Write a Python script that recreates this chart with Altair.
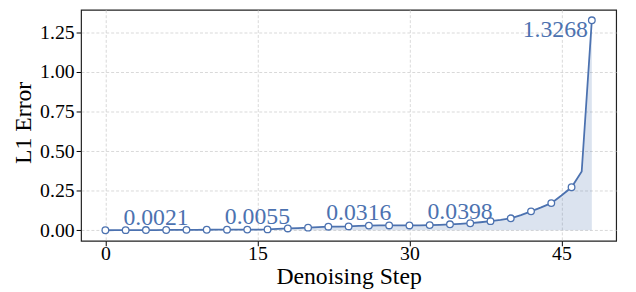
import altair as alt
import pandas as pd

# Denoising steps 0..48 and L1 error
steps = list(range(49))
errors = [
    0.0005, 0.0010, 0.0012, 0.0015, 0.0018, 0.0020, 0.0022, 0.0026, 0.0030, 0.0034,
    0.0036, 0.0038, 0.0040, 0.0042, 0.0045, 0.0048, 0.0060, 0.0090, 0.0120, 0.0140,
    0.0170, 0.0200, 0.0230, 0.0240, 0.0250, 0.0280, 0.0300, 0.0310, 0.0310, 0.0310,
    0.0310, 0.0320, 0.0330, 0.0350, 0.0380, 0.0410, 0.0450, 0.0510, 0.0580, 0.0660,
    0.0760, 0.0960, 0.1200, 0.1450, 0.1720, 0.2200, 0.2720, 0.3720, 1.3268,
]

label_steps = [5, 15, 25, 35]
label_values = [0.0021, 0.0055, 0.0316, 0.0398]
label_texts = ["0.0021", "0.0055", "0.0316", "0.0398"]

max_step = [48]
max_value = [1.3268]
max_text = ["1.3268"]

x_ticks = [0, 15, 30, 45]
y_ticks = [0.0, 0.25, 0.5, 0.75, 1.0, 1.25]

BLUE = "#4C72B0"
FONT = "Liberation Serif"

df = pd.DataFrame({"step": steps, "err": errors})
lab = pd.DataFrame({"step": label_steps, "val": label_values, "txt": label_texts})
mx = pd.DataFrame({"step": max_step, "val": max_value, "txt": max_text})

xs = alt.Scale(domain=[-2.4, 50.4], nice=False, zero=False)
ys = alt.Scale(domain=[-0.0663, 1.3931], nice=False, zero=False)

common = dict(
    grid=True, domain=False, tickSize=5, tickColor="black",
    labelFont=FONT, labelFontSize=20, labelColor="black",
    titleFont=FONT, titleFontSize=24, titleColor="black", titleFontWeight="normal",
    gridColor="#cfcfcf", gridDash=[3, 2], gridWidth=0.8,
)

xax = alt.Axis(values=x_ticks, title="Denoising Step",
               labelBaseline="alphabetic", labelPadding=14,
               titleBaseline="alphabetic", titleY=43, **common)
yax = alt.Axis(values=y_ticks, title="L1 Error", format=".2f", labelPadding=2,
               titleBaseline="alphabetic", titleX=-51, titleY=114, titleAngle=270,
               **common)

base = alt.Chart(df)

area = base.mark_area(color=BLUE, opacity=0.2).encode(
    x=alt.X("step:Q", scale=xs, axis=xax),
    y=alt.Y("err:Q", scale=ys, axis=yax),
    y2=alt.datum(0),
)

line = base.mark_line(color=BLUE, strokeWidth=1.8).encode(
    x=alt.X("step:Q", scale=xs),
    y=alt.Y("err:Q", scale=ys),
)

pts = base.transform_filter("datum.step % 2 == 0").mark_point(
    shape="circle", filled=False, fill="white", fillOpacity=1, opacity=1,
    stroke=BLUE, strokeWidth=1.3, size=45,
).encode(
    x=alt.X("step:Q", scale=xs),
    y=alt.Y("err:Q", scale=ys),
)

labels = alt.Chart(lab).mark_text(
    font=FONT, fontSize=24, color=BLUE, align="center", baseline="alphabetic", dy=-5.5,
).encode(
    x=alt.X("step:Q", scale=xs),
    y=alt.Y("val:Q", scale=ys),
    text="txt:N",
)

maxlab = alt.Chart(mx).mark_text(
    font=FONT, fontSize=24, color=BLUE, align="right", baseline="alphabetic", dx=-4, dy=17,
).encode(
    x=alt.X("step:Q", scale=xs),
    y=alt.Y("val:Q", scale=ys),
    text="txt:N",
)

chart = alt.layer(area, line, pts, labels, maxlab).properties(
    width=542,
    height=234,
    autosize=alt.AutoSizeParams(type="none"),
    padding={"left": 74, "top": 0, "right": 12, "bottom": 50},
).configure(
    font=FONT,
).configure_axis(
    labelFont=FONT, titleFont=FONT,
).configure_text(
    font=FONT,
).configure_view(
    stroke="#222222", strokeWidth=1.2,
)

chart.save("out.html", embed_options={"renderer": "svg", "actions": False})
